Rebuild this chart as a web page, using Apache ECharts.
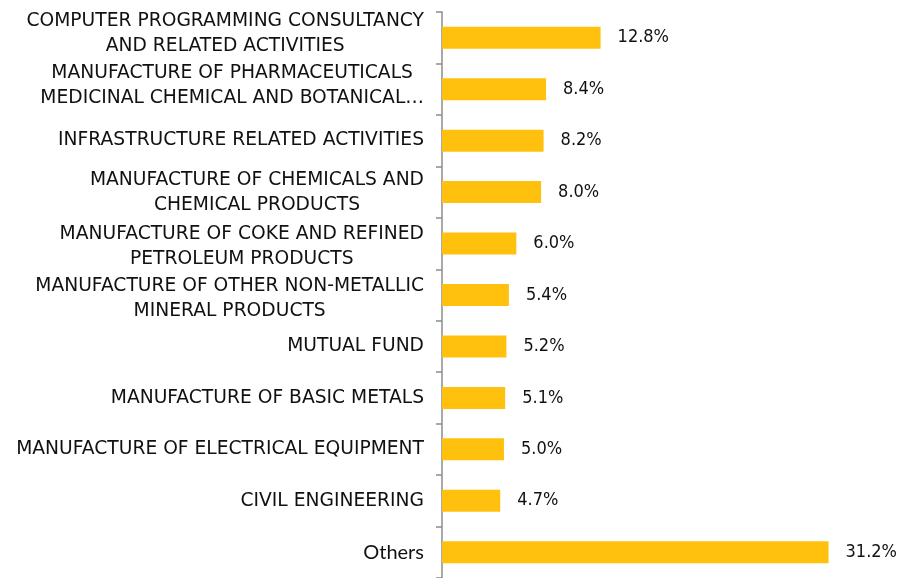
<!DOCTYPE html>
<html>
<head>
<meta charset="utf-8">
<script src="https://cdn.jsdelivr.net/npm/echarts@6/dist/echarts.min.js"></script>
<style>
  html, body { margin: 0; padding: 0; background: #fff; }
  #chart { width: 900px; height: 578px; }
</style>
</head>
<body>
<div id="chart"></div>
<script>
// sector names, top to bottom
const sectors = [
  "COMPUTER PROGRAMMING CONSULTANCY\nAND RELATED ACTIVITIES",
  "MANUFACTURE OF PHARMACEUTICALS\nMEDICINAL CHEMICAL AND BOTANICAL\u2026",
  "INFRASTRUCTURE RELATED ACTIVITIES",
  "MANUFACTURE OF CHEMICALS AND\nCHEMICAL PRODUCTS",
  "MANUFACTURE OF COKE AND REFINED\nPETROLEUM PRODUCTS",
  "MANUFACTURE OF OTHER NON-METALLIC\nMINERAL PRODUCTS",
  "MUTUAL FUND",
  "MANUFACTURE OF BASIC METALS",
  "MANUFACTURE OF ELECTRICAL EQUIPMENT",
  "CIVIL ENGINEERING",
  "Others"
];
// share of holdings, %
const shares = [12.8, 8.4, 8.2, 8.0, 6.0, 5.4, 5.2, 5.1, 5.0, 4.7, 31.2];

// small vertical nudges of the wrapped labels (px, + = down)
const labelNudge = [-4, -4, 0, 1, 3, 4, 0, 0, 0, 0, 0];

const catFont = "'DejaVu Sans', sans-serif";
const valFont = "'DejaVu Sans Condensed', 'DejaVu Sans', sans-serif";

function draw() {
  const chart = echarts.init(document.getElementById("chart"));

  const catData = sectors.map((name, i) => {
    const n = labelNudge[i];
    return {
      value: name,
      textStyle: { padding: n >= 0 ? [n * 2, 0, 0, 0] : [0, 0, -n * 2, 0] }
    };
  });

  chart.setOption({
    animation: false,
    grid: { left: 442, right: 12, top: 12, bottom: -8, containLabel: false },
    xAxis: {
      type: "value",
      min: 0,
      max: 36,
      show: false
    },
    yAxis: {
      type: "category",
      inverse: true,
      data: catData,
      axisLine: { show: true, lineStyle: { color: "#8c8c8c", width: 1.5 } },
      axisTick: { show: true, length: 6, lineStyle: { color: "#8c8c8c", width: 1.5 } },
      axisLabel: {
        margin: 18,
        align: "right",
        formatter: (value) => {
          const key = value === "Others" ? "o" : "c";
          return value.split("\n").map((l) => "{" + key + "|" + l + "}").join("\n");
        },
        rich: {
          c: {
            align: "center",
            color: "#111",
            fontSize: 18.7,
            fontFamily: catFont,
            lineHeight: 25
          },
          o: {
            align: "center",
            color: "#111",
            fontSize: 20,
            fontFamily: "Lato",
            lineHeight: 25
          }
        }
      }
    },
    series: [
      {
        type: "bar",
        data: shares,
        barWidth: 22,
        itemStyle: { color: "#FFC10E" },
        label: {
          show: true,
          position: "right",
          distance: 17,
          color: "#111",
          fontSize: 18,
          fontFamily: valFont,
          formatter: (p) => p.value.toFixed(1) + "%"
        }
      }
    ]
  });
}

Promise.all([
  document.fonts.load("20px Lato"),
  document.fonts.load("18px 'DejaVu Sans'"),
  document.fonts.load("18px 'DejaVu Sans Condensed'")
]).then(draw, draw);
</script>
</body>
</html>
